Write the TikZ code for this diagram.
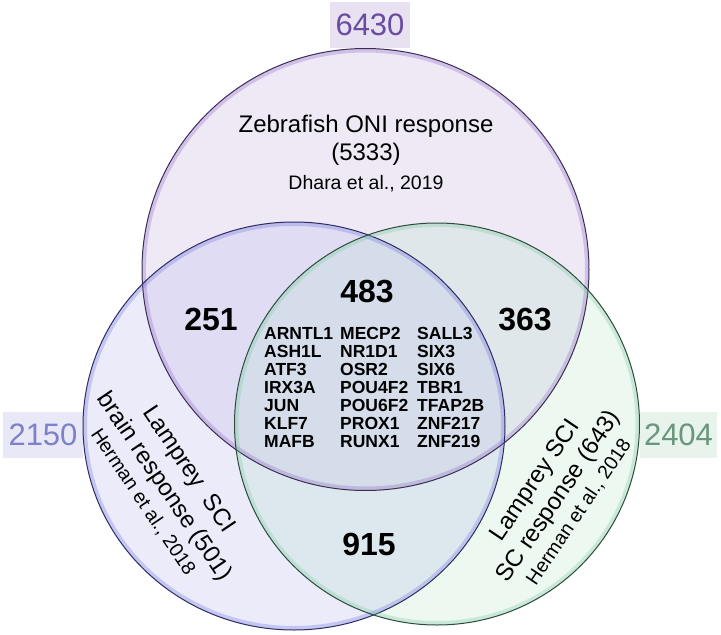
\documentclass[tikz,border=0pt]{standalone}
\usepackage{fontspec}
\setmainfont{Liberation Sans}

\definecolor{zfill}{RGB}{212,198,232}
\definecolor{bfill}{RGB}{188,190,240}
\definecolor{gfill}{RGB}{178,225,198}
\definecolor{zline}{RGB}{60,45,85}
\definecolor{bline}{RGB}{45,45,95}
\definecolor{gline}{RGB}{45,75,60}
\definecolor{zglow}{RGB}{140,100,195}
\definecolor{bglow}{RGB}{110,110,225}
\definecolor{gglow}{RGB}{120,200,160}
\definecolor{ztext}{RGB}{105,75,160}
\definecolor{btext}{RGB}{125,130,200}
\definecolor{gtext}{RGB}{105,150,125}
\definecolor{zbox}{RGB}{232,225,242}
\definecolor{bbox}{RGB}{232,232,246}
\definecolor{gbox}{RGB}{232,243,236}

\begin{document}
\begin{tikzpicture}[x=1pt,y=-1pt,
    count/.style={font=\fontsize{32}{32}\selectfont\bfseries, anchor=base},
    total/.style={font=\fontsize{31}{31}\selectfont, minimum width=80pt, minimum height=46pt, inner sep=0pt},
    gene/.style={font=\fontsize{17.5}{18}\selectfont\bfseries, anchor=base west, inner sep=0pt},
    setname/.style={font=\fontsize{24}{28}\selectfont, inner sep=0pt},
    setref/.style={font=\fontsize{19.5}{22}\selectfont, inner sep=0pt}]
    \useasboundingbox (0,0) rectangle (721,635);

    % Totals
    \node[total, fill=zbox, text=ztext] (ztot) at (370,25) {6430};
    \node[total, fill=bbox, text=btext] (btot) at (43,434.5) {2150};
    \node[total, fill=gbox, text=gtext, minimum width=77pt] (gtot) at (678.5,434.5) {2404};

    % Centres of the three sets
    \coordinate (zf) at (365.5,269.5);
    \coordinate (br) at (294,426);
    \coordinate (sc) at (437,424);

    % Fills
    \fill[zfill, fill opacity=.38] (zf) ellipse [x radius=223.5pt, y radius=221pt];
    \fill[bfill, fill opacity=.3] (br) ellipse [x radius=211pt, y radius=204pt];
    \fill[gfill, fill opacity=.24] (sc) ellipse [x radius=202.5pt, y radius=201pt];

    % Inner glow and borders
    \foreach \c/\rx/\ry/\glow/\edge in {zf/223.5/221/zglow/zline, br/211/204/bglow/bline, sc/202.5/201/gglow/gline} {
        \begin{scope}
            \clip (\c) ellipse [x radius=\rx pt, y radius=\ry pt];
            \draw[\glow, line width=8pt, draw opacity=.3] (\c) ellipse [x radius=\rx pt, y radius=\ry pt];
        \end{scope}
        \draw[\edge, line width=1pt] (\c) ellipse [x radius=\rx pt, y radius=\ry pt];
    }

    % Set names
    \node[setname, anchor=base] (zname) at (366,132.5) {Zebrafish ONI response};
    \node[setname, anchor=base] (zsize) at (366,160) {(5333)};
    \node[setref, anchor=base] (zref) at (366,189) {Dhara et al., 2019};
    \node[setname, rotate=-56] (bname) at (188,470) {Lamprey\ \ SCI};
    \node[setname, rotate=-56] (bsize) at (164,487) {brain response (501)};
    \node[setref, rotate=-56] (bref) at (143,502) {Herman et al., 2018};
    \node[setname, rotate=56] (gname) at (536,481) {Lamprey SCI};
    \node[setname, rotate=56] (gsize) at (559,497) {SC response (643)};
    \node[setref, rotate=56] (gref) at (579,512) {Herman et al., 2018};

    % Region counts
    \node[count] (zb) at (211,330) {251};
    \node[count] (zbg) at (367,302) {483};
    \node[count] (zg) at (525,330) {363};
    \node[count] (bg) at (369,555) {915};

    % Genes shared by all three sets
    \foreach \g [count=\i] in {ARNTL1,ASH1L,ATF3,IRX3A,JUN,KLF7,MAFB}
        \node[gene] (ga\i) at (264,{321.5+18*\i}) {\g};
    \foreach \g [count=\i] in {MECP2,NR1D1,OSR2,POU4F2,POU6F2,PROX1,RUNX1}
        \node[gene] (gb\i) at (340,{321.5+18*\i}) {\g};
    \foreach \g [count=\i] in {SALL3,SIX3,SIX6,TBR1,TFAP2B,ZNF217,ZNF219}
        \node[gene] (gc\i) at (417,{321.5+18*\i}) {\g};
\end{tikzpicture}
\end{document}
